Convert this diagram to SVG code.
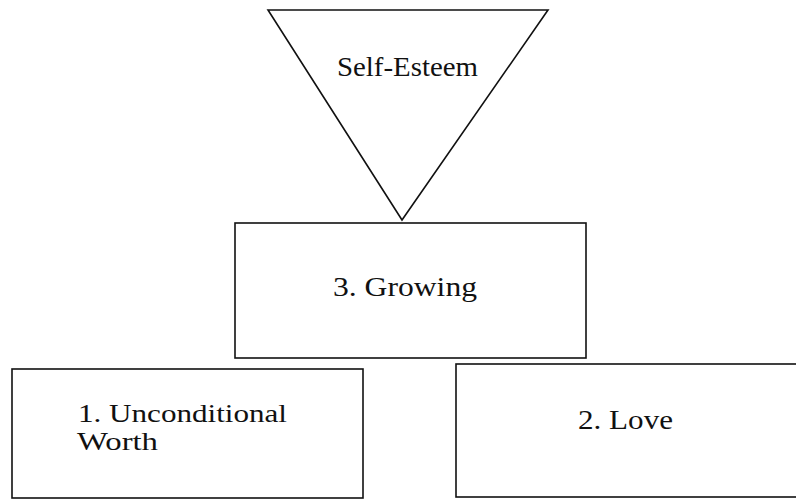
<svg xmlns="http://www.w3.org/2000/svg" width="796" height="500" viewBox="0 0 796 500">
<style>
.s{fill:#fff;stroke:#111;stroke-width:1.6}
.t{font-family:"Liberation Serif","Times New Roman",serif;font-size:27px;fill:#111}
.u{font-size:25px}
</style>
<rect width="796" height="500" fill="#fff"/>
<g id="self-esteem">
<polygon class="s" points="268,10 548,10 402,220"/>
<text class="t" x="337" y="76" textLength="141" lengthAdjust="spacingAndGlyphs">Self-Esteem</text>
</g>
<g id="growing">
<rect class="s" x="235" y="223" width="351" height="135"/>
<text class="t" x="333" y="296" textLength="144" lengthAdjust="spacingAndGlyphs">3. Growing</text>
</g>
<g id="unconditional-worth">
<rect class="s" x="12" y="369" width="351" height="129"/>
<text class="t u" x="78" y="422" textLength="209" lengthAdjust="spacingAndGlyphs">1. Unconditional</text>
<text class="t u" x="77" y="450" textLength="81" lengthAdjust="spacingAndGlyphs">Worth</text>
</g>
<g id="love">
<rect class="s" x="456" y="364" width="345" height="133"/>
<text class="t" x="578" y="429" textLength="95" lengthAdjust="spacingAndGlyphs">2. Love</text>
</g>
<g id="connectors"></g>
</svg>
